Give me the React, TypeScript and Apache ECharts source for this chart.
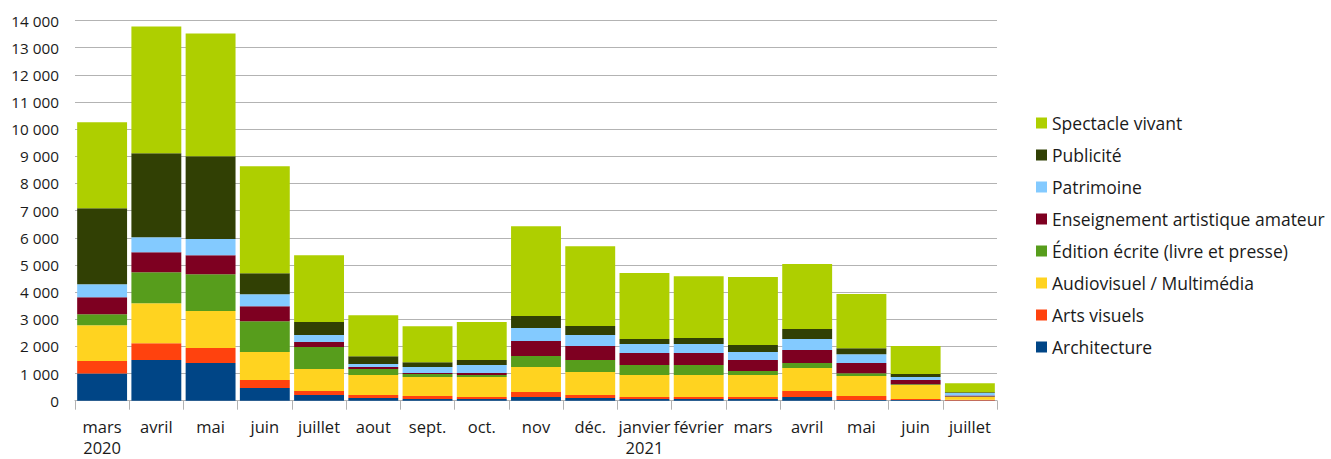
import React, { useEffect, useRef } from "react";
import * as echarts from "echarts";

const categories = [
  "mars\n2020", "avril", "mai", "juin", "juillet", "aout", "sept.", "oct.", "nov", "déc.",
  "janvier\n2021", "février", "mars", "avril", "mai", "juin", "juillet",
];

const architecture = [1000, 1500, 1390, 470, 210, 100, 60, 60, 135, 100, 60, 60, 60, 135, 25, 25, 10];
const artsVisuels = [460, 620, 550, 290, 150, 110, 110, 75, 185, 110, 75, 75, 75, 220, 145, 35, 25];
const audiovisuel = [1320, 1470, 1360, 1030, 810, 740, 700, 735, 920, 850, 810, 810, 810, 845, 735, 515, 100];
const edition = [400, 1140, 1360, 1140, 810, 220, 110, 75, 405, 440, 370, 370, 150, 185, 110, 35, 20];
const enseignement = [630, 740, 700, 550, 180, 70, 40, 75, 550, 515, 440, 440, 405, 480, 370, 150, 40];
const patrimoine = [480, 550, 590, 440, 260, 110, 220, 290, 480, 405, 330, 330, 295, 405, 330, 110, 85];
const publicite = [2800, 3090, 3050, 770, 480, 290, 180, 185, 440, 330, 185, 220, 260, 370, 220, 110, 35];
const spectacle = [3160, 4670, 4520, 3940, 2460, 1510, 1320, 1400, 3310, 2940, 2430, 2280, 2500, 2390, 1990, 1030, 330];

const seriesDefs = [
  { name: "Architecture", data: architecture, color: "#004586" },
  { name: "Arts visuels", data: artsVisuels, color: "#ff420e" },
  { name: "Audiovisuel / Multimédia", data: audiovisuel, color: "#ffd320" },
  { name: "Édition écrite (livre et presse)", data: edition, color: "#579d1c" },
  { name: "Enseignement artistique amateur", data: enseignement, color: "#7e0021" },
  { name: "Patrimoine", data: patrimoine, color: "#83caff" },
  { name: "Publicité", data: publicite, color: "#314004" },
  { name: "Spectacle vivant", data: spectacle, color: "#aecf00" },
];

const FONT = "'Open Sans', 'DejaVu Sans', sans-serif";

export default function App() {
  const ref = useRef<HTMLDivElement>(null);
  useEffect(() => {
    document.body.style.margin = "0";
    const chart = echarts.init(ref.current!, null, { renderer: "svg" });
    chart.setOption({
      animation: false,
      textStyle: { fontFamily: FONT },
      grid: {
        left: 75,
        right: 334,
        top: 20.5,
        bottom: 58.3,
        containLabel: false,
        outerBoundsMode: "none",
      },
      legend: {
        orient: "vertical",
        left: 1031,
        top: 108,
        itemWidth: 11,
        itemHeight: 11,
        itemGap: 12,
        icon: "rect",
        data: seriesDefs.map((s) => s.name).reverse(),
        textStyle: { fontFamily: FONT, fontSize: 17.5, color: "#1a1a1a", lineHeight: 20 },
      },
      xAxis: {
        type: "category",
        data: categories,
        axisLine: { lineStyle: { color: "#b3b3b3", width: 1 } },
        axisTick: { show: true, length: 9, lineStyle: { color: "#b3b3b3" } },
        axisLabel: {
          fontFamily: FONT,
          fontSize: 16.5,
          color: "#1a1a1a",
          lineHeight: 21,
          margin: 15,
          interval: 0,
          hideOverlap: false,
        },
      },
      yAxis: {
        type: "value",
        min: 0,
        max: 14000,
        interval: 1000,
        axisLine: { show: false },
        axisTick: { show: false },
        splitLine: { lineStyle: { color: "#b3b3b3", width: 1 } },
        axisLabel: {
          fontFamily: FONT,
          fontSize: 15.3,
          color: "#1a1a1a",
          margin: 16,
          formatter: (v: number) => String(v).replace(/\B(?=(\d{3})+(?!\d))/g, " "),
        },
      },
      series: seriesDefs.map((s) => ({
        name: s.name,
        type: "bar",
        stack: "total",
        data: s.data,
        barCategoryGap: "8%",
        itemStyle: { color: s.color },
      })),
    });
    return () => chart.dispose();
  }, []);
  return <div ref={ref} style={{ width: 1331, height: 459 }} />;
}
